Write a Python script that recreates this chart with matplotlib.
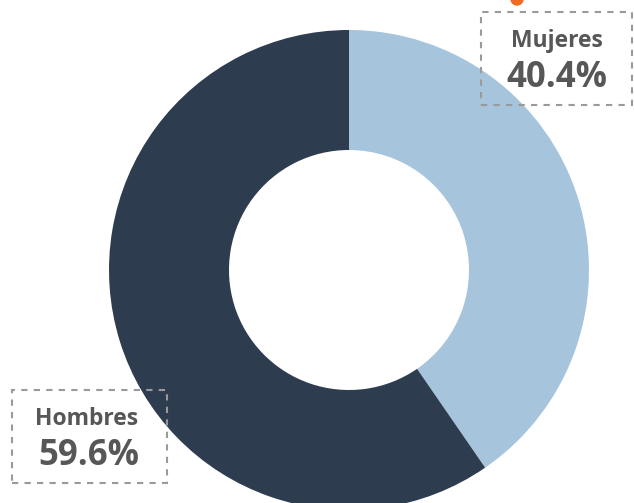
import matplotlib
matplotlib.use("Agg")
import matplotlib.pyplot as plt
from matplotlib.patches import Rectangle, Circle

labels = ["Mujeres", "Hombres"]
values = [40.4, 59.6]
colors = ["#a6c4dc", "#2e3c50"]

W, H = 634, 503
fig = plt.figure(figsize=(W / 100, H / 100), dpi=100)
ax = fig.add_axes([0, 0, 1, 1])

def Y(py):
    return H - py

ax.pie(values, colors=colors, startangle=90, counterclock=False,
       center=(349, Y(270)), radius=240,
       wedgeprops=dict(width=120, edgecolor="none"))

ax.set_xlim(0, W)
ax.set_ylim(0, H)
ax.set_aspect("equal")
ax.axis("off")

fam = ["Open Sans", "DejaVu Sans"]
tc = "#575757"
# boxes
ax.add_patch(Rectangle((481, Y(105)), 151, 93, fill=False, edgecolor="#9a9a9a",
                       linestyle=(0, (3, 3)), linewidth=1.5, zorder=5))
ax.add_patch(Rectangle((12, Y(483)), 155, 93, fill=False, edgecolor="#9a9a9a",
                       linestyle=(0, (3, 3)), linewidth=1.5, zorder=5))
# orange dot
ax.add_patch(Circle((517, Y(-1)), 6, color="#f26a21", zorder=6, clip_on=True))

ax.text(557, Y(41), labels[0], ha="center", va="center", fontsize=16.5,
        fontweight="bold", color=tc, family=fam)
ax.text(557, Y(78), f"{values[0]:.1f}%", ha="center", va="center", fontsize=25,
        fontweight="bold", color=tc, family=fam)
ax.text(87, Y(419), labels[1], ha="center", va="center", fontsize=16.5,
        fontweight="bold", color=tc, family=fam)
ax.text(89, Y(456), f"{values[1]:.1f}%", ha="center", va="center", fontsize=25,
        fontweight="bold", color=tc, family=fam)

fig.savefig("out.png", dpi=100)
